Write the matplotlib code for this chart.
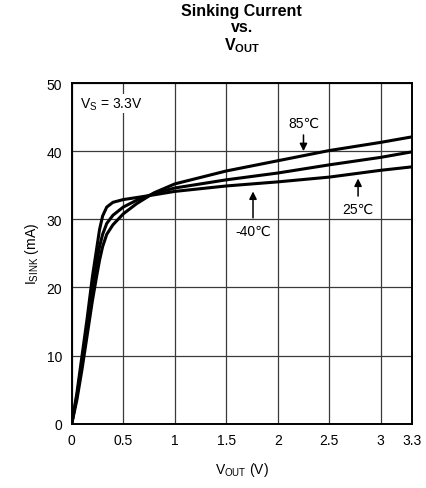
import matplotlib
matplotlib.use('Agg')
import matplotlib.pyplot as plt
import numpy as np

plt.rcParams['font.family'] = ['Liberation Sans', 'DejaVu Sans']
plt.rcParams['mathtext.fontset'] = 'custom'
plt.rcParams['mathtext.rm'] = 'Liberation Sans'
plt.rcParams['mathtext.bf'] = 'Liberation Sans:bold'

## data (V_OUT in V, I_SINK in mA)
vout = [0, 0.05, 0.1, 0.15, 0.2, 0.24, 0.27, 0.3, 0.34, 0.4, 0.5, 0.63, 0.8,
        1.0, 1.5, 2.0, 2.5, 3.0, 3.3]
i_sharp = [0, 4.5, 10, 15.5, 21.5, 25.5, 28.5, 30.5, 31.8, 32.5, 32.9, 33.2, 33.6,
           34.1, 34.9, 35.5, 36.2, 37.2, 37.7]
i_mid = [0, 4, 9, 14, 19, 23.5, 26, 27.8, 29.4, 30.6, 31.8, 32.8, 33.8,
         34.6, 35.8, 36.8, 38.0, 39.1, 39.9]
i_round = [0, 3.5, 8, 13, 18, 21.5, 24, 26, 27.8, 29.2, 30.8, 32.3, 33.9,
           35.2, 37.1, 38.6, 40.1, 41.3, 42.1]

xticks = [0, 0.5, 1, 1.5, 2, 2.5, 3, 3.3]
xticklabels = ['0', '0.5', '1', '1.5', '2', '2.5', '3', '3.3']
yticks = [0, 10, 20, 30, 40, 50]

fig = plt.figure(figsize=(4.27, 4.89), dpi=100)
ax = fig.add_axes([0.168, 0.1315, 0.796, 0.6965])

for cur in (i_sharp, i_mid, i_round):
    ax.plot(vout, cur, color='k', lw=2.2, solid_capstyle='round', solid_joinstyle='round')

ax.set_xlim(0, 3.3)
ax.set_ylim(0, 50)
ax.set_xticks(xticks)
ax.set_xticklabels(xticklabels)
ax.set_yticks(yticks)
ax.tick_params(length=0, pad=7, labelsize=10, colors='k')
ax.grid(True, color='#3a3a3a', lw=0.9)
for s in ax.spines.values():
    s.set_linewidth(1.4)

ax.set_xlabel(r'V$_\mathrm{OUT}$ (V)', fontsize=10, labelpad=9)
ax.set_ylabel(r'I$_\mathrm{SINK}$ (mA)', fontsize=10, labelpad=4)
fig.text(0.566, 0.992, 'Sinking Current\nvs.\n' + r'V$_\mathbf{OUT}$',
         ha='center', va='top', fontsize=11.5, fontweight='bold', linespacing=1.1)

# labels and arrows
ax.text(0.08, 47, r'V$_\mathrm{S}$ = 3.3V', fontsize=10, va='center',
        bbox=dict(fc='white', ec='none', pad=1))
arrow = dict(arrowstyle='-|>', color='k', lw=1.1, mutation_scale=11)
ax.annotate('85\u2103', xy=(2.25, 39.6), xytext=(2.25, 43.2), ha='center', va='bottom',
            fontsize=10, arrowprops=arrow)
ax.annotate('25\u2103', xy=(2.78, 36.4), xytext=(2.78, 32.6), ha='center', va='top',
            fontsize=10, arrowprops=arrow)
ax.annotate('-40\u2103', xy=(1.76, 34.5), xytext=(1.76, 29.4), ha='center', va='top',
            fontsize=10, arrowprops=arrow)

fig.savefig('out.png', dpi=100)
